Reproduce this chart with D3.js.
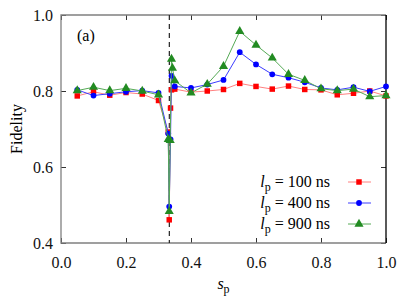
<!DOCTYPE html>
<html>
<head>
<meta charset="utf-8">
<script src="https://cdn.jsdelivr.net/npm/d3@7"></script>
<style>
  body { margin: 0; background: #fff; }
</style>
</head>
<body>
<svg id="chart" width="407" height="305"></svg>
<script>
"use strict";

// valeurs
var xTicks = [0, 0.2, 0.4, 0.6, 0.8, 1.0];
var yTicks = [0.4, 0.6, 0.8, 1.0];
var transition = 1 / 3;

var red100 = [
  [0.05, 0.787], [0.10, 0.798], [0.15, 0.789], [0.20, 0.796], [0.25, 0.792],
  [0.30, 0.775], [0.330, 0.692], [0.333, 0.461], [0.337, 0.755], [0.340, 0.803],
  [0.35, 0.805], [0.40, 0.797], [0.45, 0.800], [0.50, 0.804], [0.55, 0.820],
  [0.60, 0.812], [0.65, 0.805], [0.70, 0.813], [0.75, 0.804], [0.80, 0.803],
  [0.85, 0.790], [0.90, 0.794], [0.95, 0.800], [1.00, 0.787]
];
var blue400 = [
  [0.05, 0.803], [0.10, 0.788], [0.15, 0.793], [0.20, 0.798], [0.25, 0.801],
  [0.30, 0.795], [0.330, 0.688], [0.333, 0.496], [0.337, 0.673], [0.340, 0.840],
  [0.35, 0.812], [0.40, 0.808], [0.45, 0.817], [0.50, 0.829], [0.55, 0.902],
  [0.60, 0.870], [0.65, 0.844], [0.70, 0.835], [0.75, 0.823], [0.80, 0.808],
  [0.85, 0.803], [0.90, 0.810], [0.95, 0.799], [1.00, 0.812]
];
var green900 = [
  [0.05, 0.801], [0.10, 0.810], [0.15, 0.801], [0.20, 0.807], [0.25, 0.800],
  [0.30, 0.790], [0.330, 0.673], [0.333, 0.483], [0.336, 0.670], [0.340, 0.884],
  [0.343, 0.860], [0.35, 0.827], [0.40, 0.795], [0.45, 0.818], [0.50, 0.865],
  [0.55, 0.957], [0.60, 0.921], [0.65, 0.887], [0.70, 0.844], [0.75, 0.828],
  [0.80, 0.806], [0.85, 0.801], [0.90, 0.805], [0.95, 0.785], [1.00, 0.788]
];
var legendLabels = ["100", "400", "900"];

var series = [
  { data: red100,   color: "#ff0000", line: "#ff8080", shape: "square",   label: legendLabels[0] },
  { data: blue400,  color: "#0000ff", line: "#3c3cff", shape: "circle",   label: legendLabels[1] },
  { data: green900, color: "#228b22", line: "#55aa55", shape: "triangle", label: legendLabels[2] }
];

var FONT = "Liberation Serif";
var svg = d3.select("#chart");
var margin = { left: 61, top: 15, right: 21, bottom: 62 };
var W = 407 - margin.left - margin.right;
var H = 305 - margin.top - margin.bottom;

var x = d3.scaleLinear().domain([0, 1]).range([0, W]);
var y = d3.scaleLinear().domain([0.4, 1.0]).range([H, 0]);

var g = svg.append("g")
  .attr("transform", "translate(" + margin.left + "," + margin.top + ")");

// axes avec graduations vers l'intérieur
var fmt = d3.format(".1f");
var axBottom = g.append("g").attr("transform", "translate(0," + H + ")")
  .call(d3.axisBottom(x).tickValues(xTicks).tickSize(-5).tickPadding(14).tickFormat(fmt));
var axTop = g.append("g")
  .call(d3.axisTop(x).tickValues(xTicks).tickSize(-5).tickFormat(""));
var axLeft = g.append("g")
  .call(d3.axisLeft(y).tickValues(yTicks).tickSize(-5).tickPadding(8).tickFormat(fmt));
var axRight = g.append("g").attr("transform", "translate(" + W + ",0)")
  .call(d3.axisRight(y).tickValues(yTicks).tickSize(-5).tickFormat(""));

[axBottom, axTop, axLeft, axRight].forEach(function (a) {
  a.select(".domain").remove();
  a.selectAll(".tick line").attr("stroke", "#333");
  a.selectAll(".tick text")
    .attr("font-family", FONT)
    .attr("font-size", 16)
    .attr("fill", "#111");
});

// cadre : gris sauf à droite
g.append("path")
  .attr("d", "M" + W + ",0 H0 V" + H + " H" + W)
  .attr("fill", "none").attr("stroke", "#808080").attr("stroke-width", 1.3);
g.append("line")
  .attr("x1", W).attr("x2", W).attr("y1", 0).attr("y2", H)
  .attr("stroke", "#000").attr("stroke-width", 1.3);

// ligne de transition
g.append("line")
  .attr("x1", x(transition)).attr("x2", x(transition))
  .attr("y1", 0).attr("y2", H)
  .attr("stroke", "#222").attr("stroke-width", 1.2)
  .attr("stroke-dasharray", "5,4");

var line = d3.line()
  .x(function (d) { return x(d[0]); })
  .y(function (d) { return y(d[1]); });

function symbolFor(shape) {
  if (shape == "square") return d3.symbol().type(d3.symbolSquare).size(30);
  if (shape == "circle") return d3.symbol().type(d3.symbolCircle).size(26);
  return d3.symbol().type(d3.symbolTriangle).size(36);
}

series.forEach(function (s) {
  g.append("path")
    .datum(s.data)
    .attr("d", line)
    .attr("fill", "none")
    .attr("stroke", s.line)
    .attr("stroke-width", 1);

  g.selectAll(".pt-" + s.shape)
    .data(s.data)
    .enter()
    .append("path")
    .attr("class", "pt-" + s.shape)
    .attr("transform", function (d) { return "translate(" + x(d[0]) + "," + y(d[1]) + ")"; })
    .attr("d", symbolFor(s.shape)())
    .attr("fill", s.color);
});

// étiquette (a)
g.append("text")
  .attr("x", 16).attr("y", 26)
  .attr("font-family", FONT)
  .attr("font-size", 16)
  .text("(a)");

// titres des axes
var xl = svg.append("text")
  .attr("x", margin.left + W / 2).attr("y", 289)
  .attr("text-anchor", "middle")
  .attr("font-family", FONT)
  .attr("font-size", 16);
xl.append("tspan").attr("font-style", "italic").text("s");
xl.append("tspan").attr("dy", 4).attr("font-size", 12).text("p");

svg.append("text")
  .attr("transform", "translate(22," + (margin.top + H / 2) + ") rotate(-90)")
  .attr("text-anchor", "middle")
  .attr("font-family", FONT)
  .attr("font-size", 16)
  .text("Fidelity");

// légende
var legend = g.append("g").attr("class", "legend");
var rowY = [167, 188, 209];
series.forEach(function (s, i) {
  var row = legend.append("g").attr("transform", "translate(0," + rowY[i] + ")");
  var t = row.append("text")
    .attr("x", 269).attr("y", 5)
    .attr("text-anchor", "end")
    .attr("font-family", FONT)
    .attr("font-size", 16);
  t.append("tspan").attr("font-style", "italic").text("l");
  t.append("tspan").attr("dy", 4).attr("font-size", 12).text("p");
  t.append("tspan").attr("dy", -4).text(" = " + s.label + " ns");

  row.append("line")
    .attr("x1", 287).attr("x2", 310)
    .attr("stroke", s.line).attr("stroke-width", 1);
  row.append("path")
    .attr("transform", "translate(298,0)")
    .attr("d", symbolFor(s.shape)())
    .attr("fill", s.color);
});
</script>
</body>
</html>
